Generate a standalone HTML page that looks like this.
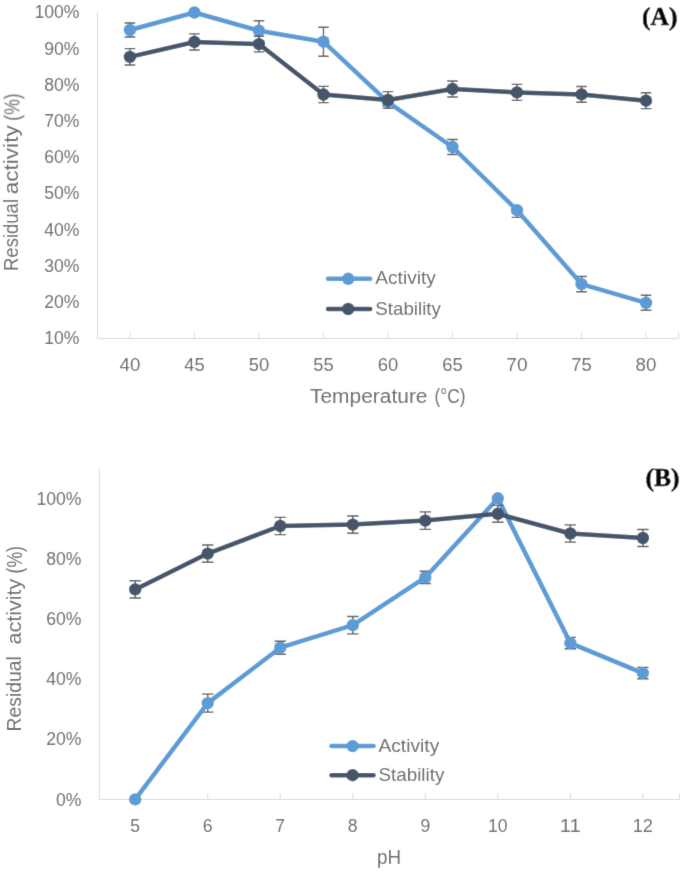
<!DOCTYPE html>
<html><head><meta charset="utf-8"><title>Residual activity charts</title>
<style>
html,body{margin:0;padding:0;background:#fff;width:685px;height:874px;overflow:hidden;font-family:"Liberation Sans",sans-serif;}
svg{display:block;}
</style></head><body>
<svg width="685" height="874" viewBox="0 0 685 874" font-family="Liberation Sans, sans-serif">
<defs><filter id="soft" x="0" y="0" width="685" height="874" filterUnits="userSpaceOnUse"><feConvolveMatrix order="3" kernelMatrix="0.0113 0.0838 0.0113 0.0838 0.6193 0.0838 0.0113 0.0838 0.0113" divisor="1" edgeMode="duplicate"/></filter></defs>
<rect width="685" height="874" fill="#fff"/>
<g filter="url(#soft)">
<rect width="685" height="874" fill="#fff"/>
<path d="M97.5 11.8V338.5" stroke="#D9D9D9" stroke-width="1" fill="none"/>
<path d="M97 338.5H678.5M129.92 338.5V332.5M194.43 338.5V332.5M258.95 338.5V332.5M323.46 338.5V332.5M387.97 338.5V332.5M452.49 338.5V332.5M517 338.5V332.5M581.51 338.5V332.5M646.02 338.5V332.5M678.5 338.5V332.5" stroke="#D9D9D9" stroke-width="1" fill="none"/>
<text x="79.5" y="18.3" text-anchor="end" font-size="17.6" fill="#686868">100%</text>
<text x="79.5" y="54.5" text-anchor="end" font-size="17.6" fill="#686868">90%</text>
<text x="79.5" y="90.7" text-anchor="end" font-size="17.6" fill="#686868">80%</text>
<text x="79.5" y="126.9" text-anchor="end" font-size="17.6" fill="#686868">70%</text>
<text x="79.5" y="163.1" text-anchor="end" font-size="17.6" fill="#686868">60%</text>
<text x="79.5" y="199.3" text-anchor="end" font-size="17.6" fill="#686868">50%</text>
<text x="79.5" y="235.5" text-anchor="end" font-size="17.6" fill="#686868">40%</text>
<text x="79.5" y="271.7" text-anchor="end" font-size="17.6" fill="#686868">30%</text>
<text x="79.5" y="307.9" text-anchor="end" font-size="17.6" fill="#686868">20%</text>
<text x="79.5" y="344.1" text-anchor="end" font-size="17.6" fill="#686868">10%</text>
<text x="129.92" y="370.6" text-anchor="middle" font-size="17.6" fill="#686868" textLength="20.8" lengthAdjust="spacingAndGlyphs">40</text>
<text x="194.43" y="370.6" text-anchor="middle" font-size="17.6" fill="#686868" textLength="20.3" lengthAdjust="spacingAndGlyphs">45</text>
<text x="258.95" y="370.6" text-anchor="middle" font-size="17.6" fill="#686868" textLength="20.5" lengthAdjust="spacingAndGlyphs">50</text>
<text x="323.46" y="370.6" text-anchor="middle" font-size="17.6" fill="#686868" textLength="20.3" lengthAdjust="spacingAndGlyphs">55</text>
<text x="387.97" y="370.6" text-anchor="middle" font-size="17.6" fill="#686868" textLength="20.5" lengthAdjust="spacingAndGlyphs">60</text>
<text x="452.49" y="370.6" text-anchor="middle" font-size="17.6" fill="#686868" textLength="20.5" lengthAdjust="spacingAndGlyphs">65</text>
<text x="517" y="370.6" text-anchor="middle" font-size="17.6" fill="#686868" textLength="21.3" lengthAdjust="spacingAndGlyphs">70</text>
<text x="581.51" y="370.6" text-anchor="middle" font-size="17.6" fill="#686868" textLength="20.5" lengthAdjust="spacingAndGlyphs">75</text>
<text x="646.02" y="370.6" text-anchor="middle" font-size="17.6" fill="#686868" textLength="20.8" lengthAdjust="spacingAndGlyphs">80</text>
<path d="M129.92 23V37M124.62 23h10.6M124.62 37h10.6M258.95 20.7V40.7M253.65 20.7h10.6M253.65 40.7h10.6M323.46 27.2V56.2M318.16 27.2h10.6M318.16 56.2h10.6M387.97 98.2V106.2M382.67 98.2h10.6M382.67 106.2h10.6M452.49 139.5V154.5M447.19 139.5h10.6M447.19 154.5h10.6M517 210.2V217.4M511.7 217.4h10.6M581.51 276.5V291.7M576.21 276.5h10.6M576.21 291.7h10.6M646.02 295.3V310.3M640.72 295.3h10.6M640.72 310.3h10.6" stroke="#595959" stroke-width="1.4" fill="none"/>
<path d="M129.92 30L194.43 12.5L258.95 30.7L323.46 41.7L387.97 102.2L452.49 147L517 210.2L581.51 284.1L646.02 302.8" stroke="#5B9BD5" stroke-width="4.5" fill="none" stroke-linejoin="round" stroke-linecap="round"/>
<circle cx="129.92" cy="30" r="6.2" fill="#5B9BD5"/>
<circle cx="194.43" cy="12.5" r="6.2" fill="#5B9BD5"/>
<circle cx="258.95" cy="30.7" r="6.2" fill="#5B9BD5"/>
<circle cx="323.46" cy="41.7" r="6.2" fill="#5B9BD5"/>
<circle cx="387.97" cy="102.2" r="6.2" fill="#5B9BD5"/>
<circle cx="452.49" cy="147" r="6.2" fill="#5B9BD5"/>
<circle cx="517" cy="210.2" r="6.2" fill="#5B9BD5"/>
<circle cx="581.51" cy="284.1" r="6.2" fill="#5B9BD5"/>
<circle cx="646.02" cy="302.8" r="6.2" fill="#5B9BD5"/>
<path d="M129.92 48.65V65.05M124.62 48.65h10.6M124.62 65.05h10.6M194.43 33.86V50.06M189.13 33.86h10.6M189.13 50.06h10.6M258.95 36.3V51.9M253.65 36.3h10.6M253.65 51.9h10.6M323.46 86.35V102.65M318.16 86.35h10.6M318.16 102.65h10.6M387.97 91.6V108.4M382.67 91.6h10.6M382.67 108.4h10.6M452.49 80.95V96.95M447.19 80.95h10.6M447.19 96.95h10.6M517 84.4V100.4M511.7 84.4h10.6M511.7 100.4h10.6M581.51 86.5V102.3M576.21 86.5h10.6M576.21 102.3h10.6M646.02 92.8V108.6M640.72 92.8h10.6M640.72 108.6h10.6" stroke="#595959" stroke-width="1.4" fill="none"/>
<path d="M129.92 56.85L194.43 41.96L258.95 44.1L323.46 94.5L387.97 100L452.49 88.95L517 92.4L581.51 94.4L646.02 100.7" stroke="#44546A" stroke-width="4.5" fill="none" stroke-linejoin="round" stroke-linecap="round"/>
<circle cx="129.92" cy="56.85" r="6.2" fill="#44546A"/>
<circle cx="194.43" cy="41.96" r="6.2" fill="#44546A"/>
<circle cx="258.95" cy="44.1" r="6.2" fill="#44546A"/>
<circle cx="323.46" cy="94.5" r="6.2" fill="#44546A"/>
<circle cx="387.97" cy="100" r="6.2" fill="#44546A"/>
<circle cx="452.49" cy="88.95" r="6.2" fill="#44546A"/>
<circle cx="517" cy="92.4" r="6.2" fill="#44546A"/>
<circle cx="581.51" cy="94.4" r="6.2" fill="#44546A"/>
<circle cx="646.02" cy="100.7" r="6.2" fill="#44546A"/>
<path d="M328 278.8H370.2" stroke="#5B9BD5" stroke-width="4.5" stroke-linecap="round"/>
<circle cx="348.2" cy="278.8" r="6.2" fill="#5B9BD5"/>
<text x="375.3" y="284.4" font-size="18.4" fill="#686868" textLength="60.6" lengthAdjust="spacingAndGlyphs">Activity</text>
<path d="M328 309H370.2" stroke="#44546A" stroke-width="4.5" stroke-linecap="round"/>
<circle cx="348.2" cy="309" r="6.2" fill="#44546A"/>
<text x="375.3" y="314.6" font-size="18.4" fill="#686868" textLength="65.6" lengthAdjust="spacingAndGlyphs">Stability</text>
<text x="310" y="403.4" font-size="19.4" fill="#686868" textLength="117.5" lengthAdjust="spacingAndGlyphs">Temperature</text>
<text x="434.6" y="403.4" font-size="21" fill="#686868" textLength="31" lengthAdjust="spacingAndGlyphs">(°C)</text>
<text transform="translate(18.4 271) rotate(-90)" font-size="19.4" fill="#686868" textLength="72" lengthAdjust="spacingAndGlyphs">Residual</text>
<text transform="translate(18.4 194.3) rotate(-90)" font-size="19.4" fill="#686868" textLength="69" lengthAdjust="spacingAndGlyphs">activity</text>
<text transform="translate(19.4 120.8) rotate(-90)" font-size="22" fill="#686868" textLength="27.5" lengthAdjust="spacingAndGlyphs">(%)</text>
<text x="677.5" y="25.3" text-anchor="end" font-family="Liberation Serif, serif" font-weight="bold" font-size="25.6" fill="#000" stroke="#000" stroke-width="0.5">(A)</text>
<path d="M99.5 468.6V799.5" stroke="#D9D9D9" stroke-width="1" fill="none"/>
<path d="M99 799.5H679.5M135.19 799.5V793.5M207.72 799.5V793.5M280.24 799.5V793.5M352.77 799.5V793.5M425.3 799.5V793.5M497.82 799.5V793.5M570.35 799.5V793.5M642.88 799.5V793.5M679.5 799.5V793.5" stroke="#D9D9D9" stroke-width="1" fill="none"/>
<text x="81.5" y="504.95" text-anchor="end" font-size="17.6" fill="#686868">100%</text>
<text x="81.5" y="565.06" text-anchor="end" font-size="17.6" fill="#686868">80%</text>
<text x="81.5" y="625.17" text-anchor="end" font-size="17.6" fill="#686868">60%</text>
<text x="81.5" y="685.28" text-anchor="end" font-size="17.6" fill="#686868">40%</text>
<text x="81.5" y="745.39" text-anchor="end" font-size="17.6" fill="#686868">20%</text>
<text x="81.5" y="805.5" text-anchor="end" font-size="17.6" fill="#686868">0%</text>
<text x="135.19" y="832" text-anchor="middle" font-size="17.6" fill="#686868">5</text>
<text x="207.72" y="832" text-anchor="middle" font-size="17.6" fill="#686868">6</text>
<text x="280.24" y="832" text-anchor="middle" font-size="17.6" fill="#686868">7</text>
<text x="352.77" y="832" text-anchor="middle" font-size="17.6" fill="#686868">8</text>
<text x="425.3" y="832" text-anchor="middle" font-size="17.6" fill="#686868">9</text>
<text x="497.82" y="832" text-anchor="middle" font-size="17.6" fill="#686868">10</text>
<text x="570.35" y="832" text-anchor="middle" font-size="17.6" fill="#686868" textLength="21" lengthAdjust="spacingAndGlyphs">11</text>
<text x="642.88" y="832" text-anchor="middle" font-size="17.6" fill="#686868" textLength="20.3" lengthAdjust="spacingAndGlyphs">12</text>
<path d="M207.72 694.1V712.1M202.02 694.1h11.4M202.02 712.1h11.4M280.24 641.2V654.2M274.54 641.2h11.4M274.54 654.2h11.4M352.77 616.55V633.85M347.07 616.55h11.4M347.07 633.85h11.4M425.3 571.3V583.5M419.6 571.3h11.4M419.6 583.5h11.4M570.35 637.4V648.8M564.65 637.4h11.4M564.65 648.8h11.4M642.88 667.4V678.8M637.18 667.4h11.4M637.18 678.8h11.4" stroke="#595959" stroke-width="1.4" fill="none"/>
<path d="M135.19 799.4L207.72 703.1L280.24 647.7L352.77 625.2L425.3 577.4L497.82 498.3L570.35 643.1L642.88 673.1" stroke="#5B9BD5" stroke-width="4.5" fill="none" stroke-linejoin="round" stroke-linecap="round"/>
<circle cx="135.19" cy="799.4" r="6.2" fill="#5B9BD5"/>
<circle cx="207.72" cy="703.1" r="6.2" fill="#5B9BD5"/>
<circle cx="280.24" cy="647.7" r="6.2" fill="#5B9BD5"/>
<circle cx="352.77" cy="625.2" r="6.2" fill="#5B9BD5"/>
<circle cx="425.3" cy="577.4" r="6.2" fill="#5B9BD5"/>
<circle cx="497.82" cy="498.3" r="6.2" fill="#5B9BD5"/>
<circle cx="570.35" cy="643.1" r="6.2" fill="#5B9BD5"/>
<circle cx="642.88" cy="673.1" r="6.2" fill="#5B9BD5"/>
<path d="M135.19 580.8V598M129.49 580.8h11.4M129.49 598h11.4M207.72 545V562.2M202.02 545h11.4M202.02 562.2h11.4M280.24 517.4V534.6M274.54 517.4h11.4M274.54 534.6h11.4M352.77 516V533.2M347.07 516h11.4M347.07 533.2h11.4M425.3 511.85V529.35M419.6 511.85h11.4M419.6 529.35h11.4M497.82 505.4V522.2M492.12 505.4h11.4M492.12 522.2h11.4M570.35 524.9V542.1M564.65 524.9h11.4M564.65 542.1h11.4M642.88 529.45V546.55M637.18 529.45h11.4M637.18 546.55h11.4" stroke="#595959" stroke-width="1.4" fill="none"/>
<path d="M135.19 589.4L207.72 553.6L280.24 526L352.77 524.6L425.3 520.6L497.82 513.8L570.35 533.5L642.88 538" stroke="#44546A" stroke-width="4.5" fill="none" stroke-linejoin="round" stroke-linecap="round"/>
<circle cx="135.19" cy="589.4" r="6.2" fill="#44546A"/>
<circle cx="207.72" cy="553.6" r="6.2" fill="#44546A"/>
<circle cx="280.24" cy="526" r="6.2" fill="#44546A"/>
<circle cx="352.77" cy="524.6" r="6.2" fill="#44546A"/>
<circle cx="425.3" cy="520.6" r="6.2" fill="#44546A"/>
<circle cx="497.82" cy="513.8" r="6.2" fill="#44546A"/>
<circle cx="570.35" cy="533.5" r="6.2" fill="#44546A"/>
<circle cx="642.88" cy="538" r="6.2" fill="#44546A"/>
<path d="M331.5 746.1H373.5" stroke="#5B9BD5" stroke-width="4.5" stroke-linecap="round"/>
<circle cx="352.6" cy="746.1" r="6.2" fill="#5B9BD5"/>
<text x="378.4" y="751.7" font-size="18.4" fill="#686868" textLength="60.9" lengthAdjust="spacingAndGlyphs">Activity</text>
<path d="M331.5 775.2H373.5" stroke="#44546A" stroke-width="4.5" stroke-linecap="round"/>
<circle cx="352.6" cy="775.2" r="6.2" fill="#44546A"/>
<text x="378.4" y="780.8" font-size="18.4" fill="#686868" textLength="66" lengthAdjust="spacingAndGlyphs">Stability</text>
<text x="377" y="863.8" font-size="19.4" fill="#686868" textLength="24" lengthAdjust="spacingAndGlyphs">pH</text>
<text transform="translate(21 731.4) rotate(-90)" font-size="19.4" fill="#686868" textLength="75.3" lengthAdjust="spacingAndGlyphs">Residual</text>
<text transform="translate(21 644.6) rotate(-90)" font-size="19.4" fill="#686868" textLength="66" lengthAdjust="spacingAndGlyphs">activity</text>
<text transform="translate(22 573.5) rotate(-90)" font-size="22" fill="#686868" textLength="27.5" lengthAdjust="spacingAndGlyphs">(%)</text>
<text x="679.6" y="485.8" text-anchor="end" font-family="Liberation Serif, serif" font-weight="bold" font-size="25.6" fill="#000" stroke="#000" stroke-width="0.5">(B)</text>
</g>
</svg>
</body></html>
